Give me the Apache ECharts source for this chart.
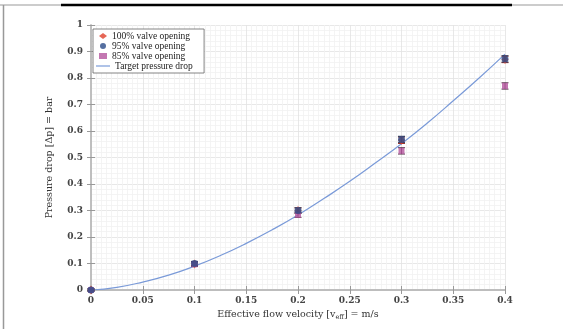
<!DOCTYPE html>
<html>
<head>
<meta charset="utf-8">
<script src="https://cdn.jsdelivr.net/npm/echarts@6/dist/echarts.min.js"></script>
<style>
  html, body { margin: 0; padding: 0; background: #fff; }
  #chart { width: 563px; height: 329px; }
</style>
</head>
<body>
<div id="chart"></div>
<script>
// 速度（横坐标）
var velocity = [0, 0.1, 0.2, 0.3, 0.4];
// 三种阀门开度下的压降
var drop100 = [0, 0.098, 0.300, 0.565, 0.870];
var drop95 = [0, 0.100, 0.300, 0.568, 0.872];
var drop85 = [0, 0.097, 0.284, 0.525, 0.770];
var errSize = [0.004, 0.008, 0.010, 0.012, 0.012];
// 目标压降曲线
var targetX = [0, 0.025, 0.05, 0.075, 0.1, 0.125, 0.15, 0.175, 0.2, 0.225, 0.25, 0.275, 0.3, 0.325, 0.35, 0.375, 0.4];
var targetY = [0, 0.010, 0.030, 0.056, 0.090, 0.130, 0.176, 0.227, 0.283, 0.345, 0.410, 0.480, 0.552, 0.630, 0.714, 0.800, 0.890];
var xTicks = [0, 0.05, 0.1, 0.15, 0.2, 0.25, 0.3, 0.35, 0.4];
var yTicks = [0, 0.1, 0.2, 0.3, 0.4, 0.5, 0.6, 0.7, 0.8, 0.9, 1];

var FONT = '"DejaVu Serif", "Liberation Serif", serif';
var LFONT = '"Liberation Serif", "DejaVu Serif", serif';

function pairs(xs, ys) {
	var out = [];
	for (var i = 0; i < xs.length; i++) out.push([xs[i], ys[i]]);
	return out;
}

//误差棒
function errBars(ys, color) {
	var data = [];
	for (var i = 0; i < velocity.length; i++) {
		data.push([velocity[i], ys[i] - errSize[i], ys[i] + errSize[i]]);
	}
	return {
		type: 'custom',
		silent: true,
		z: 3,
		data: data,
		renderItem: function (params, api) {
			var lo = api.coord([api.value(0), api.value(1)]);
			var hi = api.coord([api.value(0), api.value(2)]);
			var w = 3.5;
			var st = { stroke: color, lineWidth: 1 };
			return {
				type: 'group',
				children: [
					{ type: 'line', shape: { x1: lo[0], y1: lo[1], x2: hi[0], y2: hi[1] }, style: st },
					{ type: 'line', shape: { x1: lo[0] - w, y1: lo[1], x2: lo[0] + w, y2: lo[1] }, style: st },
					{ type: 'line', shape: { x1: hi[0] - w, y1: hi[1], x2: hi[0] + w, y2: hi[1] }, style: st }
				]
			};
		}
	};
}

var chart = echarts.init(document.getElementById('chart'));

var xLabelFmt = function (v) {
	for (var i = 0; i < xTicks.length; i++) if (Math.abs(v - xTicks[i]) < 1e-9) return String(xTicks[i]);
	return '';
};
var yLabelFmt = function (v) {
	for (var i = 0; i < yTicks.length; i++) if (Math.abs(v - yTicks[i]) < 1e-9) return String(yTicks[i]);
	return '';
};

var legendText = { fontFamily: LFONT, fontSize: 9.5, color: '#222', lineHeight: 10 };

var option = {
	backgroundColor: '#fff',
	animation: false,
	grid: { left: 91, right: 58, top: 25, bottom: 39 },
	legend: [{
		orient: 'vertical',
		left: 93,
		top: 29,
		padding: [2, 14, 12, 6],
		itemGap: 0,
		itemWidth: 8,
		itemHeight: 6,
		backgroundColor: '#fff',
		borderColor: '#666',
		borderWidth: 0.8,
		borderRadius: 0,
		textStyle: legendText,
		data: [
			{ name: '100% valve opening', icon: 'diamond' },
			{ name: '95% valve opening', icon: 'circle' },
			{ name: '85% valve opening', icon: 'rect' }
		]
	}, {
		orient: 'vertical',
		left: 93,
		top: 59,
		z: 10,
		padding: [2, 4, 2, 3],
		itemWidth: 14,
		itemHeight: 1.2,
		textStyle: legendText,
		data: [{ name: 'Target pressure drop', icon: 'rect' }]
	}],
	xAxis: [{
		type: 'value',
		min: 0, max: 0.4, interval: 0.05,
		name: 'Effective flow velocity [v{s|eff}] = m/s',
		nameLocation: 'middle',
		nameGap: 17,
		nameTextStyle: {
			fontFamily: FONT, fontSize: 9.5, color: '#333',
			rich: { s: { fontFamily: FONT, fontSize: 6.5, color: '#333', padding: [5, 0, 0, 0] } }
		},
		axisLine: { show: true, lineStyle: { color: '#bbb', width: 1.5 } },
		axisTick: { inside: true, length: 4, lineStyle: { color: '#999' } },
		minorTick: { show: false, splitNumber: 10 },
		axisLabel: { formatter: xLabelFmt, margin: 6, color: '#444', fontFamily: FONT, fontSize: 9, fontWeight: 'bold' },
		splitLine: { show: true, lineStyle: { color: '#e2e2e2', width: 0.8 } },
		minorSplitLine: { show: true, lineStyle: { color: '#f1f1f1', width: 0.8 } }
	}, {
		type: 'value', position: 'top',
		min: 0, max: 0.4, interval: 0.05,
		axisLine: { show: true, lineStyle: { color: '#bbb', width: 1.5 } },
		axisTick: { inside: true, length: 4, lineStyle: { color: '#999' } },
		axisLabel: { show: false },
		splitLine: { show: false }
	}],
	yAxis: [{
		type: 'value',
		min: 0, max: 1, interval: 0.1,
		name: 'Pressure drop [\u0394p] = bar',
		nameLocation: 'middle',
		nameGap: 36,
		nameTextStyle: { fontFamily: FONT, fontSize: 9.5, color: '#333' },
		axisLine: { show: true, lineStyle: { color: '#bbb', width: 1.5 } },
		axisTick: { inside: true, length: 4, lineStyle: { color: '#999' } },
		minorTick: { show: false, splitNumber: 5 },
		axisLabel: { formatter: yLabelFmt, margin: 8, color: '#444', fontFamily: FONT, fontSize: 9, fontWeight: 'bold' },
		splitLine: { show: true, lineStyle: { color: '#e2e2e2', width: 0.8 } },
		minorSplitLine: { show: true, lineStyle: { color: '#f1f1f1', width: 0.8 } }
	}, {
		type: 'value', position: 'right',
		min: 0, max: 1, interval: 0.1,
		axisLine: { show: true, lineStyle: { color: '#bbb', width: 1.5 } },
		axisTick: { inside: true, length: 4, lineStyle: { color: '#999' } },
		axisLabel: { show: false },
		splitLine: { show: false }
	}],
	series: [
		{
			name: 'Target pressure drop',
			type: 'line',
			smooth: true,
			symbol: 'none',
			z: 2,
			lineStyle: { color: '#7a9ad8', width: 1.2 },
			itemStyle: { color: '#7a9ad8' },
			data: pairs(targetX, targetY)
		},
		errBars(drop100, '#b03020'),
		errBars(drop85, '#5a3a50'),
		errBars(drop95, '#1d2d50'),
		{
			name: '100% valve opening',
			type: 'scatter',
			symbol: 'diamond',
			symbolSize: [7, 9],
			z: 4,
			itemStyle: { color: '#e0402c' },
			data: pairs(velocity, drop100)
		},
		{
			name: '85% valve opening',
			type: 'scatter',
			symbol: 'rect',
			symbolSize: 6,
			z: 4,
			itemStyle: { color: '#b4559e' },
			data: pairs(velocity, drop85)
		},
		{
			name: '95% valve opening',
			type: 'scatter',
			symbol: 'circle',
			symbolSize: 7,
			z: 5,
			itemStyle: { color: '#2b4b88' },
			data: pairs(velocity, drop95)
		}
	],
	graphic: [
		// 外框
		{ type: 'line', shape: { x1: 0, y1: 5, x2: 61, y2: 5 }, style: { stroke: '#999', lineWidth: 1 } },
		{ type: 'line', shape: { x1: 61, y1: 5, x2: 512, y2: 5 }, style: { stroke: '#000', lineWidth: 2.5 } },
		{ type: 'line', shape: { x1: 512, y1: 5, x2: 563, y2: 5 }, style: { stroke: '#999', lineWidth: 1 } },
		{ type: 'line', shape: { x1: 3.5, y1: 5, x2: 3.5, y2: 329 }, style: { stroke: '#999', lineWidth: 1.5 } }
	]
};

chart.setOption(option);
</script>
</body>
</html>
